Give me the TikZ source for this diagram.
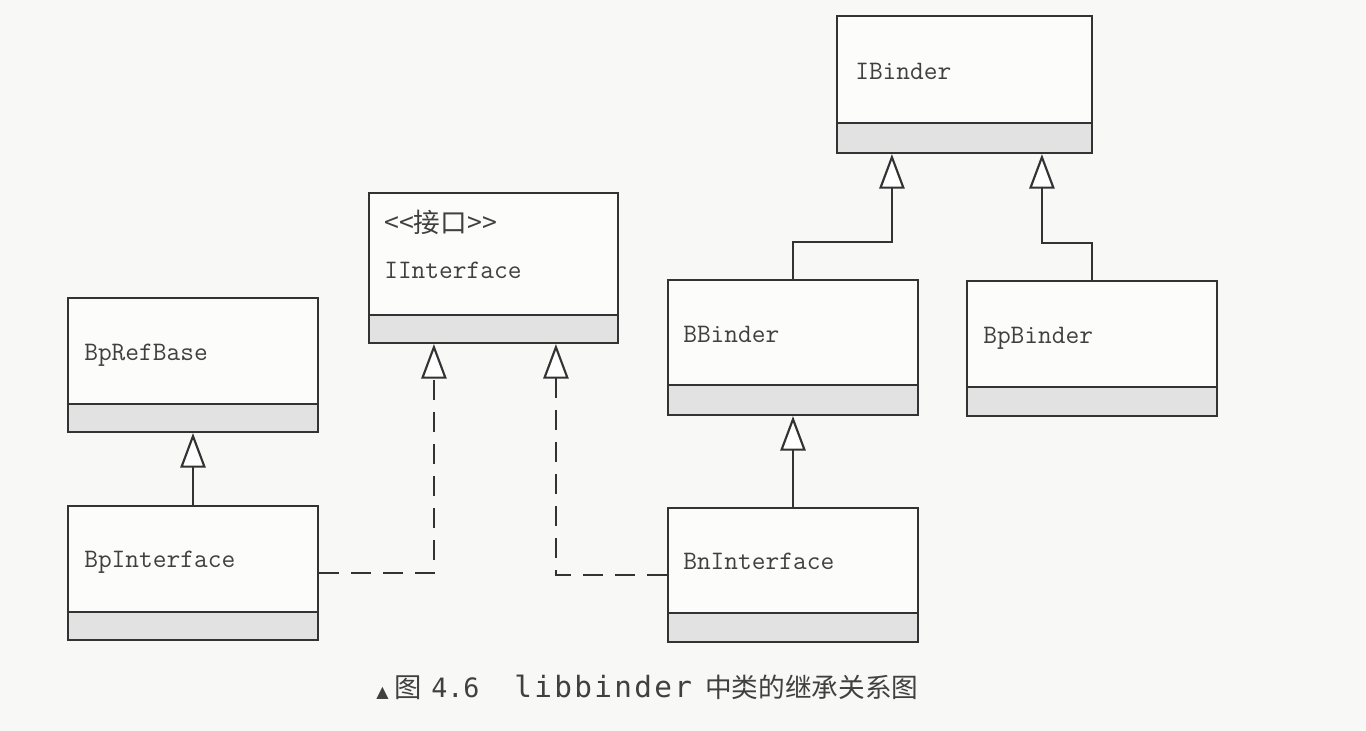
\documentclass[tikz,border=0pt]{standalone}
\usepackage{fontspec}
\usepackage{graphicx}
\newfontfamily\cjk{Noto Sans CJK SC}
\newfontfamily\capmono{DejaVu Sans Mono}
\newfontfamily\capmonowide[LetterSpace=8]{DejaVu Sans Mono}
\newfontfamily\symfont{DejaVu Sans}
\usetikzlibrary{arrows.meta,fit,calc}
\definecolor{lc}{HTML}{333333}
\definecolor{tc}{HTML}{404040}
\definecolor{comp}{HTML}{E2E2E2}
\definecolor{paper}{HTML}{F8F8F6}
\definecolor{boxbg}{HTML}{FCFCFB}
\tikzset{
  clsbox/.style={draw=lc, line width=1.6pt, inner sep=0pt},
  clsline/.style={draw=lc, line width=1.6pt},
  clstext/.style={anchor=base west, inner sep=0pt, text=tc, font=\ttfamily\fontsize{20}{24}\selectfont},
  captext/.style={anchor=base west, inner sep=0pt, text=tc},
  inh/.style={draw=lc, line width=1.6pt, -{Triangle[width=19pt,length=26pt,fill=white]}},
  realize/.style={inh, dash pattern=on 15pt off 9pt},
}
\newcommand\umlcls[6]{%
  \fill[boxbg] (#2,#3) rectangle (#4,#5);
  \fill[comp] (#2,#6) rectangle (#4,#5);
  \draw[clsline] (#2,#6) -- (#4,#6);
  \node[clsbox, fit={(#2,#3) (#4,#5)}] (#1) {};
}
\begin{document}
\begin{tikzpicture}[x=0.75pt, y=-0.75pt]
\useasboundingbox (0,0) rectangle (1366,731);
\fill[paper] (0,0) rectangle (1366,731);

% classes
\umlcls{ibinder}{837}{16}{1092}{153}{123}
\umlcls{iinterface}{369}{193}{618}{343}{315}
\umlcls{bprefbase}{68}{298}{318}{432}{404}
\umlcls{bpinterface}{68}{506}{318}{640}{612}
\umlcls{bbinder}{668}{280}{918}{415}{385}
\umlcls{bpbinder}{967}{281}{1217}{416}{387}
\umlcls{bninterface}{668}{508}{918}{642}{613}

% class names
\node[clstext] (t-ibinder) at (855,80) {IBinder};
\node[clstext] (t-stereo) at (384,232) {{\cjk\fontsize{20}{24}\selectfont <<接口>>}};
\node[clstext] (t-iinterface) at (384,278) {IInterface};
\node[clstext] (t-bprefbase) at (84,360) {BpRefBase};
\node[clstext] (t-bpinterface) at (84,567) {BpInterface};
\node[clstext] (t-bbinder) at (683,342) {BBinder};
\node[clstext] (t-bpbinder) at (983,343) {BpBinder};
\node[clstext] (t-bninterface) at (683,569) {BnInterface};

% attachment points
\path (ibinder.south west) ++(56,0) coordinate (ibL);
\path (ibinder.south west) ++(206,0) coordinate (ibR);
\path (iinterface.south west) ++(66,0) coordinate (iiL);
\path (iinterface.south west) ++(188,0) coordinate (iiR);

% connectors
\draw[inh] (bpinterface.north) -- (bprefbase.south);
\draw[inh] (bninterface.north) -- (bbinder.south);
\draw[inh] (bbinder.north) -- ++(0,-37) -| (ibL);
\draw[inh] (bpbinder.north) -- ++(0,-37) -| (ibR);
\draw[realize] (bpinterface.east) -| (iiL);
\draw[realize] (bninterface.west) -| (iiR);

% caption
\node[captext] (cap-mark) at (376,697) {{\symfont\fontsize{12}{12}\selectfont ▲}};
\node[captext] (cap-fig) at (394,697) {{\cjk\fontsize{20.5}{24}\selectfont 图}};
\node[captext] (cap-num) at (431,697) {{\capmono\fontsize{20}{24}\selectfont 4.6}};
\node[captext] (cap-lib) at (514,697) {{\capmonowide\fontsize{22}{24}\selectfont libbinder}};
\node[captext] (cap-text) at (705,697) {{\cjk\fontsize{20}{24}\selectfont 中类的继承关系图}};
\end{tikzpicture}
\end{document}
